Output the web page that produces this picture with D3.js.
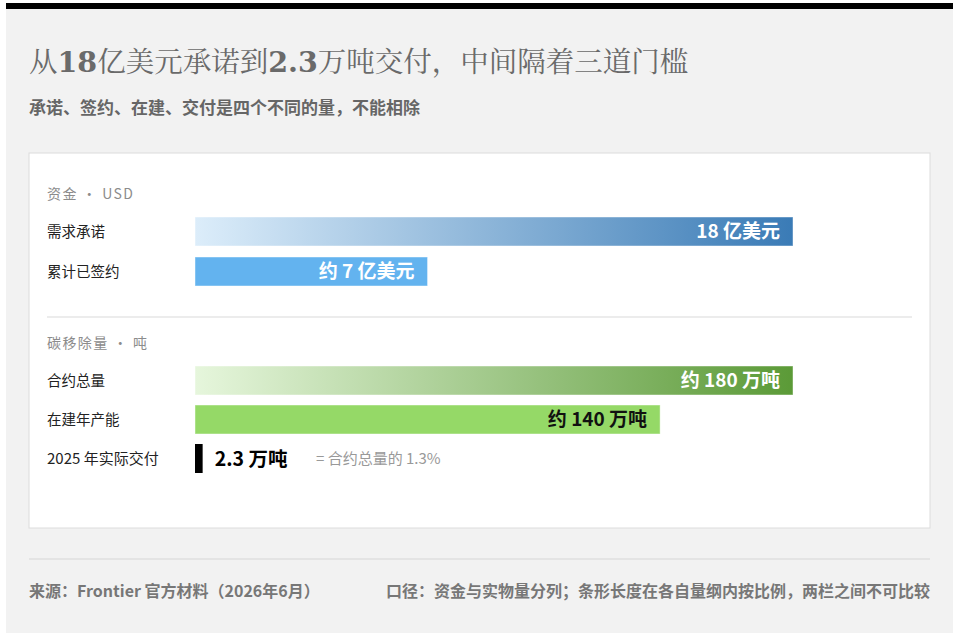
<!DOCTYPE html>
<html>
<head>
<meta charset="utf-8">
<script src="https://cdn.jsdelivr.net/npm/d3@7"></script>
<style>
  html, body { margin: 0; padding: 0; background: #ffffff; }
  svg { display: block; }
</style>
</head>
<body>
<div id="chart"></div>
<script>
// data
var fundRows = ["需求承诺", "累计已签约"];
var fundValues = [18, 7];
var fundLabels = ["18 亿美元", "约 7 亿美元"];

var carbonRows = ["合约总量", "在建年产能", "2025 年实际交付"];
var carbonValues = [180, 140, 2.3];
var carbonLabels = ["约 180 万吨", "约 140 万吨", "2.3 万吨"];

var titleParts = [["从", false], ["18", true], ["亿美元承诺到", false], ["2.3", true], ["万吨交付，中间隔着三道门槛", false]];
var subtitle = "承诺、签约、在建、交付是四个不同的量，不能相除";
var deliveryNote = "= 合约总量的 1.3%";
var sourceText = "来源：Frontier 官方材料（2026年6月）";
var noteText = "口径：资金与实物量分列；条形长度在各自量纲内按比例，两栏之间不可比较";

var svgWidth = 960;
var svgHeight = 640;
var sans = "'Noto Sans CJK SC', 'Noto Sans', sans-serif";

var svg = d3.select("#chart")
  .append("svg")
  .attr("width", svgWidth)
  .attr("height", svgHeight);

var defs = svg.append("defs");

function addGradient(id, from, to) {
  var g = defs.append("linearGradient")
    .attr("id", id)
    .attr("x1", "0%").attr("x2", "100%")
    .attr("y1", "0%").attr("y2", "0%");
  g.append("stop").attr("offset", "0%").attr("stop-color", from);
  g.append("stop").attr("offset", "100%").attr("stop-color", to);
}
addGradient("gradBlue", "#dcedfa", "#3a7bb6");
addGradient("gradGreen", "#e6f6dc", "#5b9a37");

// card background + top rule
svg.append("rect")
  .attr("x", 6).attr("y", 3)
  .attr("width", 947).attr("height", 630)
  .attr("fill", "#f2f2f2");
svg.append("rect")
  .attr("x", 6).attr("y", 3)
  .attr("width", 947).attr("height", 6)
  .attr("fill", "#000");

// title
var title = svg.append("text")
  .attr("x", 29).attr("y", 72)
  .attr("fill", "#6a6a6a")
  .style("font-size", "28.5px");
titleParts.forEach(function(p) {
  title.append("tspan")
    .text(p[0])
    .style("font-family", p[1] ? "'DejaVu Serif', 'Liberation Serif', serif" : "'Noto Serif CJK SC', 'Noto Sans CJK SC', serif")
    .style("font-weight", p[1] ? 700 : 400);
});

svg.append("text")
  .attr("x", 29).attr("y", 114)
  .attr("fill", "#666")
  .style("font-family", sans)
  .style("font-size", "17px")
  .style("font-weight", 700)
  .text(subtitle);

// white panel
svg.append("rect")
  .attr("x", 29).attr("y", 153)
  .attr("width", 901).attr("height", 375)
  .attr("fill", "#fff")
  .attr("stroke", "#dcdcdc")
  .attr("stroke-width", 1);

// scales
var xFund = d3.scaleLinear().domain([0, 18]).range([195, 793]);
var xCarbon = d3.scaleLinear().domain([0, 180]).range([195, 793]);

var yFund = d3.scaleBand().domain(fundRows).range([217, 286]).paddingInner(11 / 40).paddingOuter(0);
var yCarbon = d3.scaleBand().domain(carbonRows).range([366, 473]).paddingInner(10 / 39).paddingOuter(0);

function sectionLabel(text, y) {
  svg.append("text")
    .attr("x", 47).attr("y", y)
    .attr("fill", "#8c8c8c")
    .style("font-family", sans)
    .style("font-size", "14px")
    .style("letter-spacing", "1.4px")
    .text(text);
}
sectionLabel("资金 · USD", 199);
sectionLabel("碳移除量 · 吨", 348);

svg.append("line")
  .attr("x1", 47).attr("x2", 912)
  .attr("y1", 317).attr("y2", 317)
  .attr("stroke", "#e6e6e6")
  .attr("stroke-width", 1.5);

function rowLabels(rows, y) {
  svg.selectAll(null)
    .data(rows)
    .enter()
    .append("text")
    .attr("x", 47)
    .attr("y", d => y(d) + y.bandwidth() / 2)
    .attr("dy", "0.36em")
    .attr("fill", "#222")
    .style("font-family", sans)
    .style("font-size", d => /\d/.test(d) ? "15px" : "14.5px")
    .text(d => d);
}
rowLabels(fundRows, yFund);
rowLabels(carbonRows, yCarbon);

// fund bars
var fundFills = ["url(#gradBlue)", "#63b3ef"];
var fundData = fundRows.map((r, i) => ({row: r, value: fundValues[i], label: fundLabels[i], fill: fundFills[i]}));

svg.selectAll(".fundBar")
  .data(fundData)
  .enter()
  .append("rect")
  .attr("class", "fundBar")
  .attr("x", xFund(0))
  .attr("y", d => yFund(d.row))
  .attr("width", d => xFund(d.value) - xFund(0))
  .attr("height", yFund.bandwidth())
  .attr("fill", d => d.fill)
  .attr("stroke", "rgba(255,255,255,0.45)")
  .attr("stroke-width", 1);

svg.selectAll(".fundLabel")
  .data(fundData)
  .enter()
  .append("text")
  .attr("class", "fundLabel")
  .attr("x", d => xFund(d.value) - 13)
  .attr("y", d => yFund(d.row) + yFund.bandwidth() / 2)
  .attr("dy", "0.36em")
  .attr("text-anchor", "end")
  .attr("fill", "#fff")
  .style("font-family", sans)
  .style("font-size", "19px")
  .style("font-weight", 700)
  .text(d => d.label);

// carbon bars
var carbonFills = ["url(#gradGreen)", "#95d967", "#000"];
var labelColors = ["#fff", "#111", "#000"];
var carbonData = carbonRows.map((r, i) => ({row: r, value: carbonValues[i], label: carbonLabels[i], fill: carbonFills[i], color: labelColors[i]}));

svg.selectAll(".carbonBar")
  .data(carbonData)
  .enter()
  .append("rect")
  .attr("class", "carbonBar")
  .attr("x", xCarbon(0))
  .attr("y", d => yCarbon(d.row))
  .attr("width", d => xCarbon(d.value) - xCarbon(0))
  .attr("height", yCarbon.bandwidth())
  .attr("fill", d => d.fill)
  .attr("stroke", (d, i) => i < 2 ? "rgba(255,255,255,0.45)" : "none")
  .attr("stroke-width", 1);

svg.selectAll(".carbonLabel")
  .data(carbonData)
  .enter()
  .append("text")
  .attr("class", "carbonLabel")
  .attr("x", (d, i) => i < 2 ? xCarbon(d.value) - 13 : xCarbon(d.value) + 12)
  .attr("y", d => yCarbon(d.row) + yCarbon.bandwidth() / 2)
  .attr("dy", "0.36em")
  .attr("text-anchor", (d, i) => i < 2 ? "end" : "start")
  .attr("fill", d => d.color)
  .style("font-family", sans)
  .style("font-size", (d, i) => i < 2 ? "19px" : "19.5px")
  .style("font-weight", 700)
  .text(d => d.label);

var last = carbonData[2];
svg.append("text")
  .attr("x", 316)
  .attr("y", yCarbon(last.row) + yCarbon.bandwidth() / 2)
  .attr("dy", "0.36em")
  .attr("fill", "#999")
  .style("font-family", sans)
  .style("font-size", "15px")
  .text(deliveryNote);

// footer
svg.append("line")
  .attr("x1", 29).attr("x2", 930)
  .attr("y1", 559).attr("y2", 559)
  .attr("stroke", "#d6d6d6")
  .attr("stroke-width", 1);

svg.append("text")
  .attr("x", 29).attr("y", 597)
  .attr("fill", "#777")
  .style("font-family", sans)
  .style("font-size", "16px")
  .style("font-weight", 700)
  .text(sourceText);

svg.append("text")
  .attr("x", 930).attr("y", 597)
  .attr("text-anchor", "end")
  .attr("fill", "#777")
  .style("font-family", sans)
  .style("font-size", "16px")
  .style("font-weight", 700)
  .text(noteText);
</script>
</body>
</html>
